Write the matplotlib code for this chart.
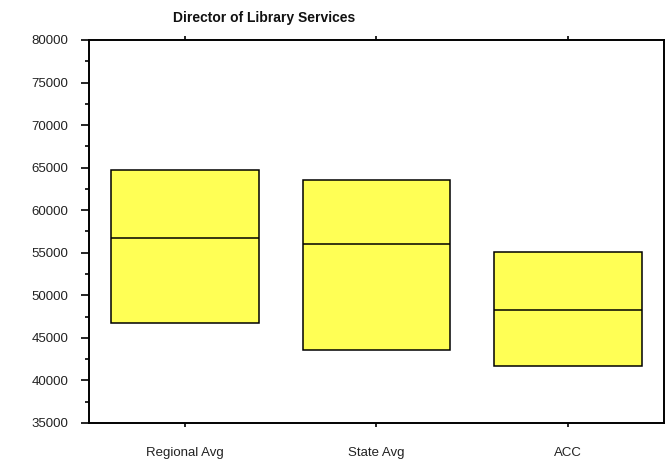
import numpy as np
import matplotlib.pyplot as plt
from matplotlib.ticker import MultipleLocator

categories = ["Regional Avg", "State Avg", "ACC"]
lows = [46700, 43600, 41750]
medians = [56750, 56050, 48300]
highs = [64700, 63550, 55100]

plt.rcParams['font.family'] = ['Liberation Sans', 'DejaVu Sans']

fig = plt.figure(figsize=(6.66, 4.66), dpi=100)
ax = fig.add_axes([0.1336, 0.0923, 0.8634, 0.8219])

x = np.arange(len(categories))
w = 0.77
lows = np.array(lows)
highs = np.array(highs)
ax.bar(x, highs - lows, bottom=lows, width=w, color='#FFFF55',
       edgecolor='black', linewidth=1.1, zorder=2)
ax.hlines(medians, x - w / 2, x + w / 2, color='black', linewidth=1.1, zorder=3)

ax.set_xlim(-0.5, 2.5)
ax.set_ylim(35000, 80000)
ax.yaxis.set_major_locator(MultipleLocator(5000))
ax.yaxis.set_minor_locator(MultipleLocator(2500))
ax.set_xticks(x)
ax.set_xticklabels(categories)

for s in ax.spines.values():
    s.set_linewidth(1.4)

ax.tick_params(axis='y', which='major', direction='out', length=6, width=1.2,
               pad=9, labelsize=9.5, labelcolor='#222222')
ax.tick_params(axis='y', which='minor', direction='out', length=3, width=1.2)
ax.tick_params(axis='x', which='major', direction='out', length=3, width=1.2,
               top=True, pad=14, labelsize=9.5, labelcolor='#222222')

ax.text(0.305, 1.04, "Director of Library Services", transform=ax.transAxes,
        ha='center', va='bottom', fontsize=10, fontweight='bold', color='#111111')

fig.savefig("out.png", dpi=100)
